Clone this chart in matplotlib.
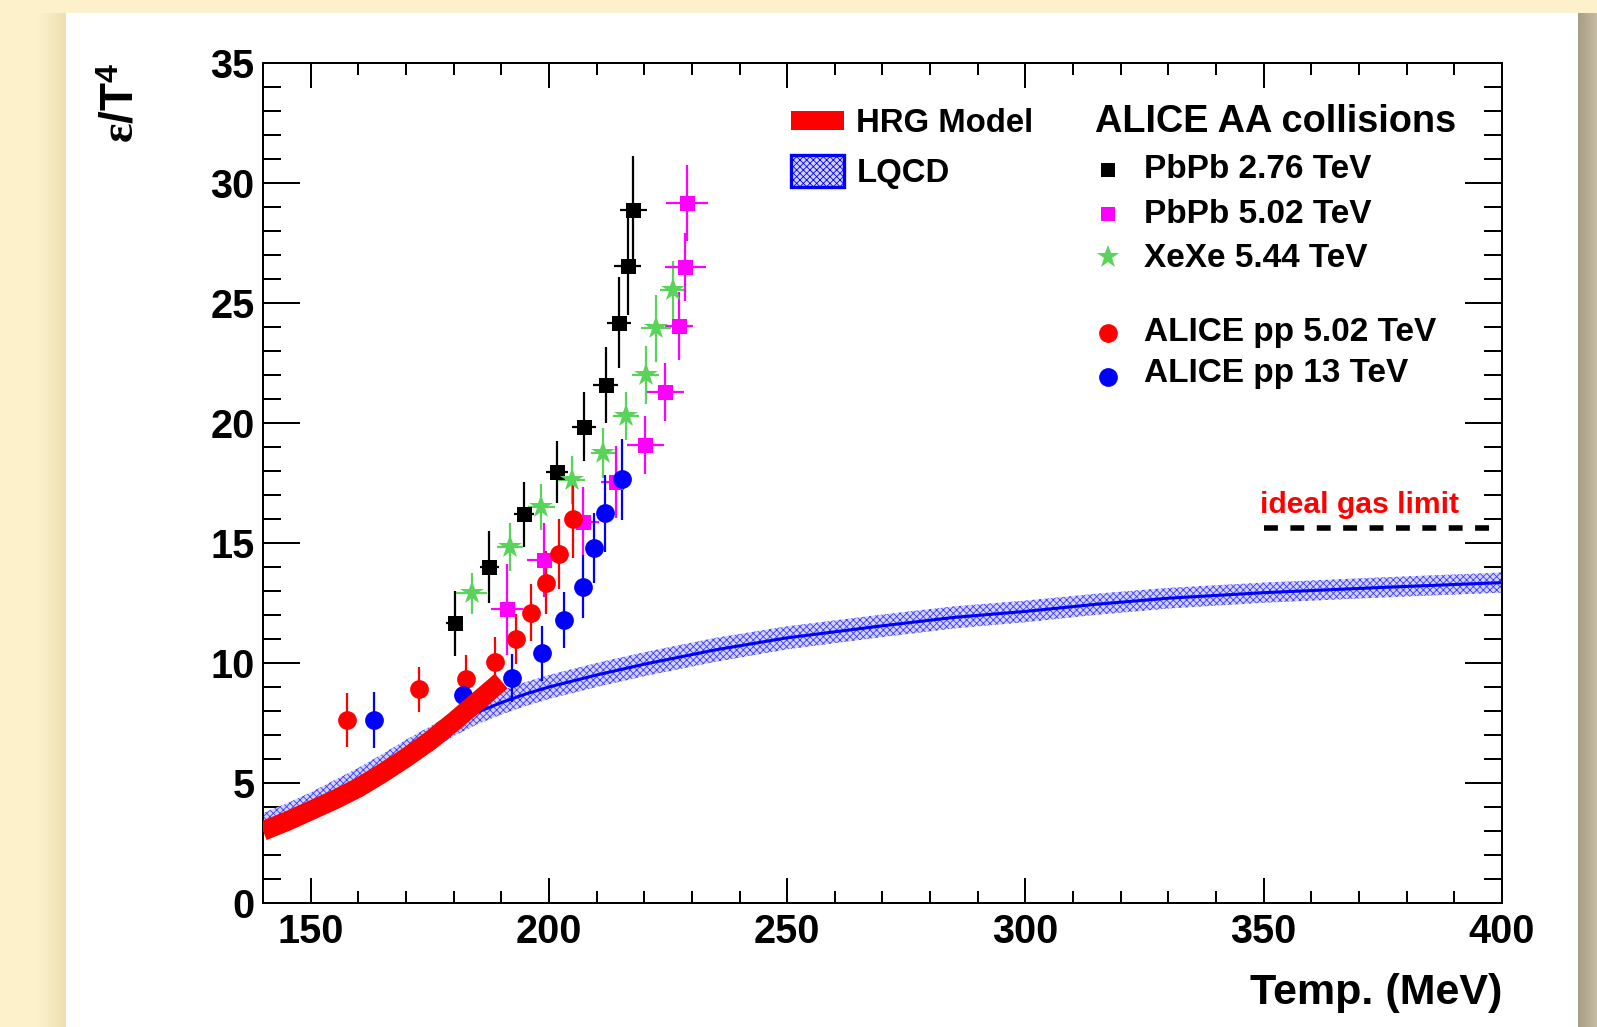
import numpy as np
import matplotlib
matplotlib.use('Agg')
import matplotlib.pyplot as plt
from matplotlib.patches import Rectangle
from matplotlib.colors import LinearSegmentedColormap

# ---------------- data ----------------
# ALICE PbPb 2.76 TeV
T_pb276 = [180.2, 187.5, 194.8, 201.6, 207.4, 211.9, 214.7, 216.5, 217.7]
v_pb276 = [11.65, 14.0, 16.2, 17.97, 19.85, 21.58, 24.18, 26.55, 28.89]
yerr_pb276 = [1.35, 1.5, 1.35, 1.3, 1.45, 1.6, 1.9, 2.05, 2.25]
xerr_pb276 = [1.8, 2.0, 2.1, 2.3, 2.55, 2.7, 2.6, 2.75, 2.8]

# ALICE PbPb 5.02 TeV
T_pb502 = [191.2, 198.9, 207.1, 214.1, 220.2, 224.4, 227.3, 228.6, 228.9]
v_pb502 = [12.24, 14.29, 15.89, 17.55, 19.08, 21.28, 24.04, 26.5, 29.17]
yerr_pb502 = [1.9, 1.55, 1.45, 1.5, 1.2, 1.2, 1.4, 1.4, 1.6]
xerr_pb502 = [3.4, 3.4, 3.5, 3.15, 3.85, 3.9, 3.0, 4.3, 4.4]

# ALICE XeXe 5.44 TeV
T_xe = [183.8, 191.8, 198.4, 204.8, 211.4, 216.2, 220.3, 222.5, 226.0]
v_xe = [12.9, 14.85, 16.5, 17.63, 18.74, 20.29, 22.0, 23.95, 25.54]
yerr_xe = [0.85, 1.0, 0.95, 1.0, 1.05, 1.0, 1.2, 1.4, 1.2]
xerr_xe = [3.2, 2.8, 2.8, 2.8, 2.6, 2.7, 2.8, 3.1, 2.7]

# ALICE pp 5.02 TeV
T_pp502 = [157.7, 172.7, 182.5, 188.7, 193.1, 196.3, 199.3, 202.2, 205.0]
v_pp502 = [7.63, 8.9, 9.32, 10.03, 10.99, 12.1, 13.35, 14.53, 16.01]
yerr_pp502 = [1.13, 0.94, 1.0, 1.07, 1.05, 1.2, 1.3, 1.46, 1.65]

# ALICE pp 13 TeV
T_pp13 = [163.3, 182.0, 192.3, 198.6, 203.1, 207.2, 209.5, 211.7, 215.4]
v_pp13 = [7.63, 8.67, 9.39, 10.4, 11.79, 13.18, 14.8, 16.24, 17.65]
yerr_pp13 = [1.17, 0.93, 1.0, 1.15, 1.15, 1.3, 1.46, 1.6, 1.7]

# HRG model
T_hrg = [140, 145, 150, 155, 160, 165, 170, 175, 180, 185, 190]
v_hrg = [3.0, 3.4, 3.85, 4.3, 4.8, 5.4, 6.05, 6.75, 7.55, 8.4, 9.25]

# LQCD
T_lqcd = [140, 145, 150, 155, 160, 165, 170, 175, 180, 185, 190, 195, 200,
          210, 220, 235, 250, 270, 285, 300, 315, 330, 350, 375, 400]
v_lqcd = [3.3, 3.7, 4.15, 4.65, 5.15, 5.7, 6.3, 6.85, 7.45, 7.95, 8.35, 8.7, 9.0,
          9.5, 9.95, 10.55, 11.05, 11.55, 11.9, 12.15, 12.45, 12.7, 12.93, 13.15, 13.35]
err_lqcd = [0.45, 0.45, 0.46, 0.47, 0.48, 0.5, 0.5, 0.5, 0.5, 0.5, 0.5, 0.5, 0.5,
            0.5, 0.5, 0.5, 0.48, 0.47, 0.46, 0.45, 0.44, 0.43, 0.42, 0.42, 0.42]

# ideal gas limit
T_ideal = [350, 398]
v_ideal = [15.63, 15.63]

xticks = [150, 200, 250, 300, 350, 400]
yticks = [0, 5, 10, 15, 20, 25, 30, 35]

# ---------------- style ----------------
plt.rcParams['font.family'] = ['Liberation Sans', 'DejaVu Sans']
plt.rcParams['font.weight'] = 'bold'
plt.rcParams['mathtext.fontset'] = 'custom'
plt.rcParams['mathtext.rm'] = 'Liberation Serif'
plt.rcParams['mathtext.bf'] = 'Liberation Sans:bold'
plt.rcParams['mathtext.it'] = 'Liberation Serif:italic'
plt.rcParams['hatch.linewidth'] = 0.6
plt.rcParams['hatch.color'] = '#3a3aff'

W, H = 1597, 1027
fig = plt.figure(figsize=(W / 100, H / 100), dpi=100)
fig.patch.set_facecolor('#FCF1CB')

# background frame
bg = fig.add_axes([0, 0, 1, 1], zorder=-5)
bg.axis('off')
grad = np.linspace(0, 1, 64).reshape(1, -1)
cm_left = LinearSegmentedColormap.from_list('l', ['#FCF1CB', '#EEDFB2'])
bg.imshow(grad, extent=(38, 66, H, 13), cmap=cm_left, aspect='auto')
bg.add_patch(Rectangle((66, 13), 1578 - 66, H - 13, facecolor='white', edgecolor='none'))
cm_right = LinearSegmentedColormap.from_list('r', ['#A69D85', '#C5BCA2'])
bg.imshow(grad, extent=(1578, W, H, 13), cmap=cm_right, aspect='auto')
bg.set_xlim(0, W)
bg.set_ylim(H, 0)

ax = fig.add_axes([263 / W, 1 - 903 / H, (1502 - 263) / W, (903 - 63) / H])
ax.set_xlim(140, 400)
ax.set_ylim(0, 35)

lo = np.array(v_lqcd) - np.array(err_lqcd)
hi = np.array(v_lqcd) + np.array(err_lqcd)
ax.fill_between(T_lqcd, lo, hi, facecolor='#d2d2fc', edgecolor='#3a3aff',
                hatch='xxxxx', linewidth=0, zorder=2)
ax.plot(T_lqcd, v_lqcd, color='#0000ff', lw=2.2, zorder=3)

ekw = dict(elinewidth=1.6, capsize=3.4, capthick=1.8, mew=0, linestyle='none')
ax.errorbar(T_pb276, v_pb276, yerr=yerr_pb276, xerr=xerr_pb276, fmt='s',
            color='black', ms=10.8, zorder=5, **ekw)
ax.errorbar(T_xe, v_xe, yerr=yerr_xe, xerr=xerr_xe, fmt='*',
            color='#5AD35A', ms=17.5, zorder=5, **ekw)
ax.errorbar(T_pb502, v_pb502, yerr=yerr_pb502, xerr=xerr_pb502, fmt='s',
            color='#FF00FF', ms=10.8, zorder=5, **ekw)
ax.errorbar(T_pp502, v_pp502, yerr=yerr_pp502, fmt='o',
            color='#FF0000', ms=13.5, zorder=5, **ekw)
ax.errorbar(T_pp13, v_pp13, yerr=yerr_pp13, fmt='o',
            color='#0000FF', ms=13.5, zorder=5, **ekw)

ax.plot(T_hrg, v_hrg, color='#FF0000', lw=14, solid_capstyle='butt', zorder=6)

ax.plot(T_ideal, v_ideal, color='black', lw=4, linestyle=(0, (2.5, 2.25)),
        dash_capstyle='butt', zorder=4)
ax.text(349.3, 16.27, 'ideal gas limit', color='#FF0000', fontsize=21.7,
        va='baseline', ha='left')

# ticks
ax.set_xticks(xticks)
ax.set_xticks(np.arange(140, 401, 10), minor=True)
ax.set_yticks(yticks)
ax.set_yticks(np.arange(0, 36, 1), minor=True)
ax.tick_params(axis='both', which='both', direction='in', top=True, right=True,
               width=1.44, labelsize=28.5)
ax.tick_params(axis='x', which='major', length=17.8, pad=7)
ax.tick_params(axis='x', which='minor', length=8.9)
ax.tick_params(axis='y', which='major', length=26.4, pad=6)
ax.tick_params(axis='y', which='minor', length=13.2)
for s in ax.spines.values():
    s.set_linewidth(1.44)

ax.text(1.0, -0.1205, 'Temp. (MeV)', transform=ax.transAxes, ha='right',
        va='baseline', fontsize=31)
ax.text(-0.1145, 1.0, r'$\mathrm{\varepsilon}\mathbf{/T}^{\mathbf{4}}$',
        transform=ax.transAxes, rotation=90, ha='center', va='top', fontsize=33)

# legend (left)
tA = ax.transAxes
ax.add_patch(Rectangle((0.4262, 0.9202), 0.0427, 0.0227, transform=tA,
                       facecolor='#FF0000', edgecolor='none', clip_on=False, zorder=7))
ax.add_patch(Rectangle((0.4262, 0.8520), 0.0427, 0.0390, transform=tA,
                       facecolor='#d2d2fc', edgecolor='#0000ff', hatch='xxxxx',
                       lw=2.4, clip_on=False, zorder=7))
ax.text(0.4790, 0.9182, 'HRG Model', transform=tA, fontsize=23.7, va='baseline')
ax.text(0.4790, 0.8587, 'LQCD', transform=tA, fontsize=23.7, va='baseline')

# legend (right)
ax.text(0.6715, 0.9182, 'ALICE AA collisions', transform=tA, fontsize=27.3, va='baseline')
lx = 0.6820
tx = 0.7111
entries = [
    ('PbPb 2.76 TeV', 's', 'black', 10.0, 0.8730, 0.8627),
    ('PbPb 5.02 TeV', 's', '#FF00FF', 10.0, 0.8202, 0.8099),
    ('XeXe 5.44 TeV', '*', '#5AD35A', 17.0, 0.7685, 0.7575),
    ('ALICE pp 5.02 TeV', 'o', '#FF0000', 13.5, 0.6786, 0.6694),
    ('ALICE pp 13 TeV', 'o', '#0000FF', 13.5, 0.6265, 0.6206),
]
for lab, mk, col, ms, my, ty in entries:
    ax.plot([lx], [my], marker=mk, color=col, ms=ms, mew=0, transform=tA,
            clip_on=False, zorder=7)
    ax.text(tx, ty, lab, transform=tA, fontsize=24, va='baseline')

fig.savefig('out.png', dpi=100)
